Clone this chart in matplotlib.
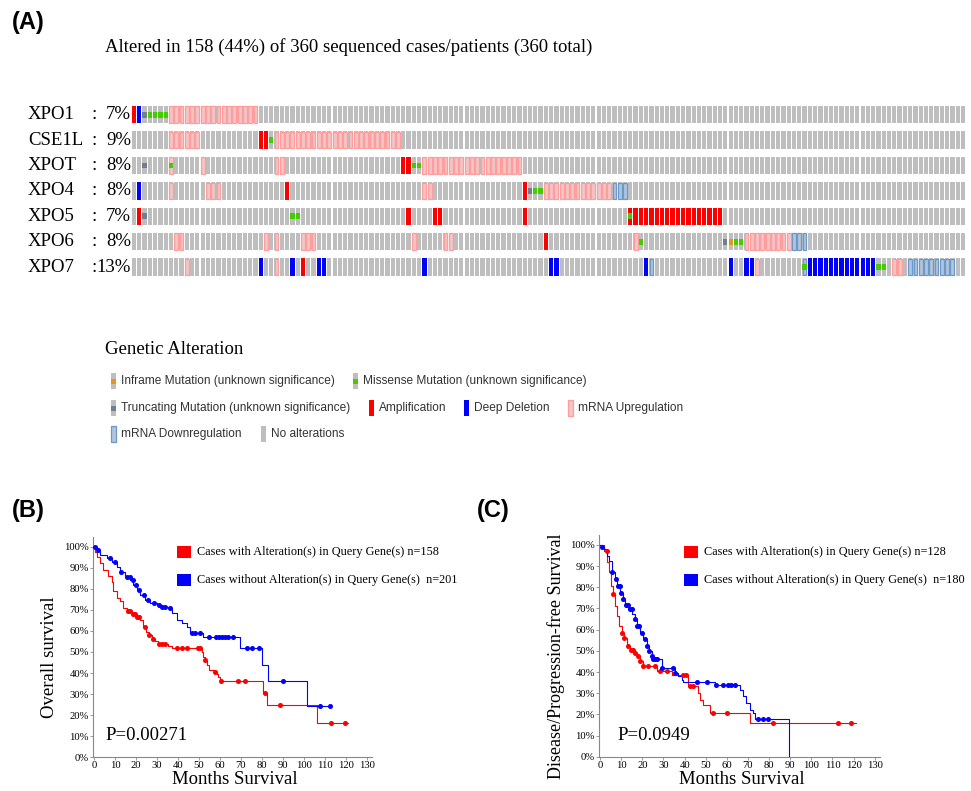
import numpy as np
import matplotlib
matplotlib.use('Agg')
import matplotlib.pyplot as plt
from matplotlib.patches import Rectangle

W, H = 971, 791
SERIF = ['Liberation Serif', 'DejaVu Serif']
SANS = ['Liberation Sans', 'DejaVu Sans']

# ---------------- Oncoprint data (column indices of altered cases) ----------------
genes = ['XPO1', 'CSE1L', 'XPOT', 'XPO4', 'XPO5', 'XPO6', 'XPO7']
pcts = ['7%', '9%', '8%', '8%', '7%', '8%', '13%']
n_cases = 158

xpo1_alt = {'amp': [0], 'del': [1], 'trunc': [2], 'mis': [3, 4, 5, 6],
            'up': [7, 8, 9, 10, 11, 12, 13, 14, 15, 16, 17, 18, 19, 20, 21, 22, 23]}
cse1l_alt = {'up': [7, 8, 9, 10, 11, 12, 27, 28, 29, 30, 31, 32, 33, 34, 35, 36, 37, 38, 39,
                    40, 41, 42, 43, 44, 45, 46, 47, 48, 49, 50],
             'amp': [24, 25], 'mis': [26]}
xpot_alt = {'trunc': [2], 'up': [7, 13, 27, 28, 55, 56, 57, 58, 59, 60, 61, 62, 63, 64, 65, 66,
                                  67, 68, 69, 70, 71, 72, 73],
            'mis': [7, 53, 54], 'amp': [51, 52]}
xpo4_alt = {'del': [1], 'up': [7, 14, 15, 16, 55, 56, 78, 79, 80, 81, 82, 83, 84, 85, 86, 87, 88, 89, 90],
            'amp': [29, 74], 'trunc': [75], 'mis': [76, 77], 'down': [91, 92, 93]}
xpo5_alt = {'amp': [1, 52, 57, 58, 74, 94, 95, 96, 97, 98, 99, 100, 101, 102, 103, 104, 105, 106,
                    107, 108, 109, 110, 111],
            'trunc': [2], 'mis': [30, 31, 94]}
xpo6_alt = {'up': [8, 9, 25, 27, 32, 33, 34, 53, 59, 60, 95, 116, 117, 118, 119, 120, 121, 122, 123, 124],
            'amp': [78], 'mis': [96, 114, 115], 'trunc': [112], 'inframe': [113], 'down': [125, 126, 127]}
xpo7_alt = {'up': [10, 27, 118, 144, 145],
            'del': [24, 30, 35, 36, 55, 79, 80, 97, 113, 116, 117, 128, 129, 130, 131, 132, 133, 134,
                    135, 136, 137, 138, 139, 140],
            'amp': [32], 'down': [98, 127, 147, 148, 149, 150, 151, 152, 153, 154, 155],
            'mis': [127, 141, 142]}
alterations = [xpo1_alt, cse1l_alt, xpot_alt, xpo4_alt, xpo5_alt, xpo6_alt, xpo7_alt]

legend_items = [
    ('inframe', 'Inframe Mutation (unknown significance)'),
    ('mis', 'Missense Mutation (unknown significance)'),
    ('trunc', 'Truncating Mutation (unknown significance)'),
    ('amp', 'Amplification'),
    ('del', 'Deep Deletion'),
    ('up', 'mRNA Upregulation'),
    ('down', 'mRNA Downregulation'),
    ('none', 'No alterations'),
]

# ---------------- Kaplan-Meier data ----------------
b_red_t = [0, 0.5, 1.3, 2.9, 4.5, 6.8, 8.4, 9.2, 10.8, 12.4, 13.7, 15.6, 18, 20.3, 22, 23.5, 24.8, 26,
           27.5, 29, 30.7, 35.4, 37, 51.3, 52, 53, 54, 55, 57, 58.5, 59.3, 60, 80.7, 82.3, 106.5, 121]
b_red_s = [1.0, 0.976, 0.95, 0.92, 0.89, 0.86, 0.83, 0.79, 0.755, 0.74, 0.707, 0.696, 0.68, 0.668,
           0.65, 0.62, 0.597, 0.58, 0.56, 0.554, 0.54, 0.528, 0.517, 0.50, 0.478, 0.462, 0.44, 0.415,
           0.407, 0.396, 0.383, 0.36, 0.307, 0.248, 0.165, 0.165]
b_red_cens = [16, 17, 18.5, 19.5, 20.5, 21.5, 24.3, 26, 28, 31, 32.5, 34, 39.4, 41.8, 44.2, 49.7, 50.5,
              53, 57.7, 60.4, 68.8, 72, 81.5, 88.7, 113, 119.7]
b_blue_t = [0, 1.3, 2.9, 6, 8.4, 10.8, 12.4, 14.8, 17.2, 18.8, 20.3, 22, 24.3, 26.7, 29.9, 32.3, 35.4,
            37, 39.4, 41.8, 44.2, 45.8, 52, 69.6, 80, 83, 101.7, 113]
b_blue_s = [1.0, 0.984, 0.96, 0.944, 0.929, 0.905, 0.88, 0.858, 0.84, 0.818, 0.794, 0.77, 0.747, 0.734,
            0.723, 0.712, 0.707, 0.684, 0.652, 0.636, 0.62, 0.589, 0.573, 0.517, 0.438, 0.364, 0.245, 0.245]
b_blue_cens = [0.5, 2, 7.5, 10, 13, 15.5, 17, 18.5, 20, 21.5, 24, 25.5, 28.5, 31, 32.5, 34, 36, 46.6,
               48, 50.5, 55, 58, 59.5, 61, 62.5, 64, 66, 72.8, 75.2, 78.4, 90, 107.8, 112.5]

c_red_t = [0, 1.9, 3.5, 4.4, 5.2, 6.0, 7.1, 8.2, 9.1, 10.2, 11.3, 12.6, 14.2, 15.8, 17.3, 18.9, 20.2,
           26.8, 33.9, 41, 41.8, 46.5, 47.3, 48.8, 52, 70.9, 121]
c_red_s = [1.0, 0.973, 0.918, 0.87, 0.807, 0.767, 0.712, 0.665, 0.617, 0.585, 0.562, 0.522, 0.506,
           0.49, 0.475, 0.45, 0.427, 0.403, 0.388, 0.38, 0.332, 0.30, 0.269, 0.245, 0.206, 0.158, 0.158]
c_red_cens = [3.2, 6.3, 10.5, 11.5, 13.4, 14.5, 15.5, 16.5, 17.8, 19, 20.5, 22.8, 26, 28.4, 31.5, 39.4,
              40.7, 42.5, 44, 53.3, 59.9, 82, 112.7, 119]
c_blue_t = [0, 0.8, 1.9, 3.2, 4, 5.5, 7.1, 7.9, 9.5, 10.7, 11.8, 13.4, 15, 16.5, 17.6, 18.9, 20.5, 22,
            23.3, 24.4, 25.2, 29.2, 35.5, 37, 38.6, 39.4, 54.4, 66.2, 67.8, 69.3, 70.9, 72.5, 73.3, 89.5]
c_blue_s = [1.0, 0.989, 0.98, 0.95, 0.926, 0.87, 0.839, 0.807, 0.775, 0.744, 0.715, 0.696, 0.672, 0.649,
            0.617, 0.585, 0.554, 0.522, 0.498, 0.475, 0.462, 0.419, 0.396, 0.38, 0.364, 0.351, 0.34,
            0.316, 0.285, 0.253, 0.222, 0.206, 0.179, 0.0]
c_blue_cens = [0.8, 5.8, 7.6, 8.5, 9.3, 10.1, 10.9, 12.1, 13.2, 14.1, 14.9, 16.5, 17.6, 18.5, 19.7,
               21.3, 22, 23.3, 24.4, 25.2, 26, 26.8, 29.2, 34.7, 35.5, 45.7, 50.4, 55, 58.3, 60.7,
               62.2, 63.8, 74.8, 77.2, 79.6]

km_ticks_x = list(range(0, 131, 10))
km_ticks_y = [i / 10 for i in range(11)]

# ---------------- figure ----------------
fig = plt.figure(figsize=(W / 100, H / 100), dpi=100)


def fx(x):
    return x / W


def fy(y):
    return 1 - y / H


def add_ax_px(left, top, right, bottom):
    return fig.add_axes([fx(left), fy(bottom), (right - left) / W, (bottom - top) / H])


GREY = '#bebebe'
COL = {'amp': '#ff0000', 'del': '#0000ff', 'mis': '#44cc00', 'trunc': '#6f7f8f', 'inframe': '#e8941a',
       'up_face': '#f1c6c6', 'up_edge': '#ff9c9c', 'down_face': '#b3c5da', 'down_edge': '#6a9acb'}

# Panel labels & titles
for lab, x, y in [('(A)', 12, 22), ('(B)', 12, 511), ('(C)', 477, 511)]:
    fig.text(fx(x), fy(y), lab, family=SANS, fontsize=17, fontweight='bold', ha='left', va='center')
fig.text(fx(105), fy(47), 'Altered in 158 (44%) of 360 sequenced cases/patients (360 total)',
         family=SERIF, fontsize=13.5, ha='left', va='center')

# Oncoprint
col_px0, col_dx = 134.0, 5.28
row_px0, row_dy = 114.7, 25.4
xl0, xl1 = -0.5, 158.6
yl0, yl1 = -0.5, 6.5
ax = add_ax_px(col_px0 + col_dx * xl0, row_px0 + row_dy * yl0,
               col_px0 + col_dx * xl1, row_px0 + row_dy * yl1)
ax.set_xlim(xl0, xl1)
ax.set_ylim(yl1, yl0)
ax.axis('off')
bw, bh, mh = 0.8, 0.69, 0.23
cases = np.arange(n_cases)
for r, (g, p, alt) in enumerate(zip(genes, pcts, alterations)):
    ax.bar(cases, bh, bottom=r - bh / 2, width=bw, color=GREY, linewidth=0)
    if 'up' in alt:
        ax.bar(alt['up'], bh - 0.04, bottom=r - (bh - 0.04) / 2, width=bw - 0.08,
               facecolor=COL['up_face'], edgecolor=COL['up_edge'], linewidth=0.9)
    if 'down' in alt:
        ax.bar(alt['down'], bh - 0.04, bottom=r - (bh - 0.04) / 2, width=bw - 0.08,
               facecolor=COL['down_face'], edgecolor=COL['down_edge'], linewidth=0.9)
    for k in ('amp', 'del'):
        if k in alt:
            ax.bar(alt[k], bh, bottom=r - bh / 2, width=bw, color=COL[k], linewidth=0)
    for k in ('mis', 'trunc', 'inframe'):
        if k in alt:
            ax.bar(alt[k], mh, bottom=r - mh / 2, width=bw, color=COL[k], linewidth=0)
    ypx = row_px0 + row_dy * r
    fig.text(fx(28), fy(ypx), g, family=SERIF, fontsize=13.5, ha='left', va='center')
    fig.text(fx(91.5), fy(ypx), ':', family=SERIF, fontsize=13.5, ha='left', va='center')
    fig.text(fx(131), fy(ypx), p, family=SERIF, fontsize=13.5, ha='right', va='center')

# Legend of genetic alteration
fig.text(fx(105), fy(350), 'Genetic Alteration', family=SERIF, fontsize=13.5, ha='left', va='center')
leg_pos = [(113, 381), (355, 381), (113, 408), (371, 408), (466, 408), (570, 408), (113, 434), (263, 434)]
for (key, label), (x, y) in zip(legend_items, leg_pos):
    w, h = 5, 16
    if key in ('amp', 'del'):
        fig.patches.append(Rectangle((fx(x - w / 2), fy(y + h / 2)), w / W, h / H, transform=fig.transFigure,
                                     facecolor=COL[key], edgecolor='none'))
    elif key in ('up', 'down'):
        fig.patches.append(Rectangle((fx(x - w / 2), fy(y + h / 2)), w / W, h / H, transform=fig.transFigure,
                                     facecolor=COL[key + '_face'], edgecolor=COL[key + '_edge'], linewidth=0.9))
    else:
        fig.patches.append(Rectangle((fx(x - w / 2), fy(y + h / 2)), w / W, h / H, transform=fig.transFigure,
                                     facecolor=GREY, edgecolor='none'))
        if key != 'none':
            fig.patches.append(Rectangle((fx(x - w / 2), fy(y + 2.5)), w / W, 5 / H, transform=fig.transFigure,
                                         facecolor=COL[key], edgecolor='none'))
    fig.text(fx(x + 8), fy(y), label, family=SANS, fontsize=8.6, color='#333333', ha='left', va='center')


# KM plots
def km_panel(box, red_t, red_s, red_c, blue_t, blue_s, blue_c, ylabel, ylab_x, ylab_size, pval, p_x,
             leg_x, n_red, n_blue, xlab_x):
    left, top, right, bottom = box
    axk = add_ax_px(left, top, right, bottom)
    axk.set_xlim(-0.5, 132.5)
    axk.set_ylim(0, 1.047)
    for t, s, c, colr in [(red_t, red_s, red_c, '#ff0000'), (blue_t, blue_s, blue_c, '#0000ff')]:
        t = np.asarray(t, float)
        s = np.asarray(s, float)
        axk.step(t, s, where='post', color=colr, lw=0.8, zorder=3)
        idx = np.searchsorted(t, np.asarray(c), side='right') - 1
        axk.plot(c, s[idx], ls='none', marker='o', ms=2.6, color=colr, mec=colr, zorder=4)
    for sp in ('top', 'right'):
        axk.spines[sp].set_visible(False)
    for sp in ('left', 'bottom'):
        axk.spines[sp].set_color('#888888')
        axk.spines[sp].set_linewidth(0.8)
    axk.set_xticks(km_ticks_x)
    axk.set_xticklabels([str(v) for v in km_ticks_x])
    axk.set_yticks(km_ticks_y)
    axk.set_yticklabels([f'{int(round(v * 100))}%' for v in km_ticks_y])
    axk.tick_params(length=2, width=0.6, color='#888888', pad=1, labelsize=7.7)
    for lab in axk.get_xticklabels() + axk.get_yticklabels():
        lab.set_family(SERIF)
    fig.text(fx(ylab_x), fy((top + bottom) / 2 + 10), ylabel, family=SERIF, fontsize=ylab_size,
             rotation=90, ha='center', va='center')
    fig.text(fx(xlab_x), fy(779), 'Months Survival', family=SERIF, fontsize=13.5, ha='center', va='center')
    fig.text(fx(p_x), fy(736), pval, family=SERIF, fontsize=13.5, ha='left', va='center')
    for yy, colr, txt in [(552, '#ff0000', f'Cases with Alteration(s) in Query Gene(s) n={n_red}'),
                          (580, '#0000ff', f'Cases without Alteration(s) in Query Gene(s)  n={n_blue}')]:
        fig.patches.append(Rectangle((fx(leg_x), fy(yy + 6)), 14 / W, 12 / H, transform=fig.transFigure,
                                     facecolor=colr, edgecolor='none'))
        fig.text(fx(leg_x + 20), fy(yy), txt, family=SERIF, fontsize=8.8, ha='left', va='center')


km_panel((93, 536.7, 372, 757.3), b_red_t, b_red_s, b_red_cens, b_blue_t, b_blue_s, b_blue_cens,
         'Overall survival', 50, 13.5, 'P=0.00271', 105, 177, 158, 201, 235)
km_panel((599, 535, 880, 756.7), c_red_t, c_red_s, c_red_cens, c_blue_t, c_blue_s, c_blue_cens,
         'Disease/Progression-free Survival', 556, 13, 'P=0.0949', 617, 684, 128, 180, 742)

fig.savefig('out.png', dpi=100)
